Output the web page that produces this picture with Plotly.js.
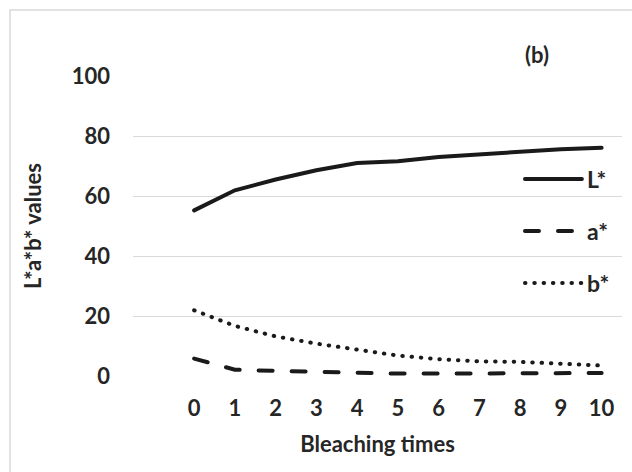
<!DOCTYPE html>
<html>
<head>
<meta charset="utf-8">
<script src="https://cdn.plot.ly/plotly-3.0.1.min.js"></script>
<style>
html,body{margin:0;padding:0;background:#fff;}
#chart{width:632px;height:472px;}
.scatterlayer .js-line{stroke-linecap:round;}
.shapelayer path{stroke-linecap:round;}
</style>
</head>
<body>
<div id="chart"></div>
<script>
const bleachingTimes = [0,1,2,3,4,5,6,7,8,9,10];
const tickLabels = ["0","1","2","3","4","5","6","7","8","9","10"];
const L_values = [55.2,61.9,65.5,68.6,71.0,71.6,73.0,73.9,74.8,75.6,76.1];
const a_values = [5.8,2.1,1.7,1.3,1.0,0.8,0.8,0.8,0.8,1.0,1.0];
const b_values = [21.9,16.7,13.2,10.8,8.8,6.8,5.6,4.9,4.7,4.1,3.5];
const seriesNames = ["L*","a*","b*"];

const FONT = "Lato, 'Open Sans', sans-serif";
const TXT = "#262626";
const LINE = "#1a1a1a";
const dashes = ["solid","14px,19px","0.5px,8.8px"];

const traces = [L_values,a_values,b_values].map((v,i)=>({
  x: bleachingTimes, y: v, name: seriesNames[i], type:"scatter", mode:"lines",
  line:{color:LINE,width:4,dash:dashes[i]}, showlegend:false, hoverinfo:"skip"
}));

// legend samples (paper coordinates)
const legY = [0.657,0.483,0.31];
const shapes = [{
  type:"rect", xref:"paper", yref:"paper", x0:-0.2515, x1:1.05, y0:-0.4, y1:1.22,
  line:{color:"#d9d9d9",width:1.5}, fillcolor:"rgba(0,0,0,0)", layer:"below"
}];
const annotations = [{
  xref:"paper", yref:"paper", x:0.855, y:1.07, yanchor:"middle", text:"<b>(b)</b>", showarrow:false,
  font:{family:FONT,size:22,color:TXT}
}];
seriesNames.forEach((n,i)=>{
  shapes.push({type:"line", xref:"paper", yref:"paper", x0:0.8016, x1:0.918, y0:legY[i], y1:legY[i],
    line:{color:LINE,width:4,dash:dashes[i]}});
  annotations.push({xref:"paper", yref:"paper", x:0.924, y:legY[i], xanchor:"left", yanchor:"middle",
    text:"<b>"+n+"</b>", showarrow:false, font:{family:FONT,size:23,color:TXT}});
});

const layout = {
  width:632, height:472,
  margin:{l:133,r:10,t:76,b:96},
  paper_bgcolor:"#fff", plot_bgcolor:"#fff",
  font:{family:FONT,color:TXT,size:22},
  xaxis:{
    range:[-1.5,10.5], tickvals:bleachingTimes, ticktext:tickLabels, showgrid:false, zeroline:false,
    showline:false, ticks:"", ticklabelstandoff:17, fixedrange:true,
    tickfont:{family:FONT,size:22,color:TXT,weight:"bold"},
    title:{text:"<b>Bleaching times</b>", standoff:16, font:{family:FONT,size:22,color:TXT}}
  },
  yaxis:{
    range:[0,100], dtick:20, tick0:0, showgrid:true, gridcolor:"#d9d9d9", gridwidth:1,
    zeroline:false, showline:false, ticks:"", ticklabelstandoff:22, fixedrange:true,
    tickfont:{family:FONT,size:22,color:TXT,weight:"bold"},
    title:{text:"<b>L*a*b* values</b>", standoff:24, font:{family:FONT,size:22,color:TXT}}
  },
  shapes:shapes, annotations:annotations, showlegend:false
};

Plotly.newPlot("chart", traces, layout, {displayModeBar:false, staticPlot:true});
</script>
</body>
</html>
